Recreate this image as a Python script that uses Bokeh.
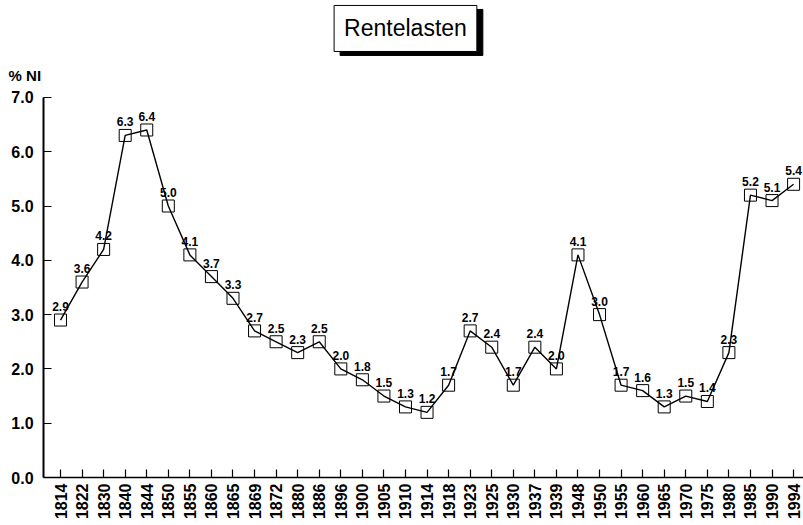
from bokeh.plotting import figure
from bokeh.models import ColumnDataSource, FixedTicker, PrintfTickFormatter, Label, Range1d
from bokeh.embed import file_html
from bokeh.resources import INLINE
from bokeh.core.properties import value

years = ["1814", "1822", "1830", "1840", "1844", "1850", "1855", "1860", "1865", "1869",
         "1872", "1880", "1886", "1896", "1900", "1905", "1910", "1914", "1918", "1923",
         "1925", "1930", "1937", "1939", "1948", "1950", "1955", "1960", "1965", "1970",
         "1975", "1980", "1985", "1990", "1994"]
rente = [2.9, 3.6, 4.2, 6.3, 6.4, 5.0, 4.1, 3.7, 3.3, 2.7,
         2.5, 2.3, 2.5, 2.0, 1.8, 1.5, 1.3, 1.2, 1.7, 2.7,
         2.4, 1.7, 2.4, 2.0, 4.1, 3.0, 1.7, 1.6, 1.3, 1.5,
         1.4, 2.3, 5.2, 5.1, 5.4]
y_ticks = [0, 1, 2, 3, 4, 5, 6, 7]
title_text = "Rentelasten"
unit_text = "% NI"

FONT = "Liberation Sans"
idx = list(range(len(years)))
src = ColumnDataSource(dict(x=idx, y=rente, lbl=["%.1f" % v for v in rente]))

p = figure(width=803, height=525, output_backend="svg", toolbar_location=None,
           x_range=Range1d(-2.783, 34.46), y_range=Range1d(-0.884, 8.785),
           min_border_left=0, min_border_right=0, min_border_top=0, min_border_bottom=0)
p.outline_line_color = None
p.grid.grid_line_color = None
p.background_fill_color = "white"

p.line("x", "y", source=src, line_color="black", line_width=1.4)
p.scatter("x", "y", source=src, marker="square", size=12, fill_alpha=0,
          line_color="black", line_width=1)
p.text("x", "y", text="lbl", source=src, text_align="center", text_baseline="bottom",
       y_offset=-9, text_font=value(FONT), text_font_style="bold", text_font_size="12px",
       text_color="black")

xa = p.xaxis[0]
xa.fixed_location = 0
xa.ticker = FixedTicker(ticks=idx)
xa.bounds = (-0.785, 34.46)
xa.major_label_overrides = {i: y for i, y in zip(idx, years)}
xa.major_label_orientation = 3.14159265 / 2
xa.major_tick_in = 8
xa.major_tick_out = 0
xa.minor_tick_line_color = None
xa.axis_line_width = 1.5
xa.major_tick_line_width = 1.2
xa.major_label_standoff = 6
xa.major_label_text_font = FONT
xa.major_label_text_font_style = "bold"
xa.major_label_text_font_size = "16px"
xa.major_label_text_color = "black"

ya = p.yaxis[0]
ya.fixed_location = -0.785
ya.bounds = (0, 7)
ya.ticker = FixedTicker(ticks=y_ticks)
ya.formatter = PrintfTickFormatter(format="%.1f")
ya.major_tick_in = 8
ya.major_tick_out = 0
ya.minor_tick_line_color = None
ya.axis_line_width = 2
ya.major_tick_line_width = 1.2
ya.major_label_standoff = 10
ya.major_label_text_font = FONT
ya.major_label_text_font_style = "bold"
ya.major_label_text_font_size = "16px"
ya.major_label_text_color = "black"

p.add_layout(Label(x=-2.41, y=7.40, text=unit_text, text_align="left", text_baseline="middle",
                   text_font=FONT, text_font_style="bold", text_font_size="15px",
                   text_color="black"))

shadow = Label(x=16.0, y=8.27, text=title_text, text_align="center", text_baseline="middle",
               text_font=FONT, text_font_size="23px", text_color="black",
               background_fill_color="black", border_line_color="black",
               padding=10, x_offset=6, y_offset=-4)
box = Label(x=16.0, y=8.27, text=title_text, text_align="center", text_baseline="middle",
            text_font=FONT, text_font_size="23px", text_color="black",
            background_fill_color="white", border_line_color="black", border_line_width=1,
            padding=10)
p.add_layout(shadow)
p.add_layout(box)

open("out.html", "w").write(file_html(p, INLINE))
